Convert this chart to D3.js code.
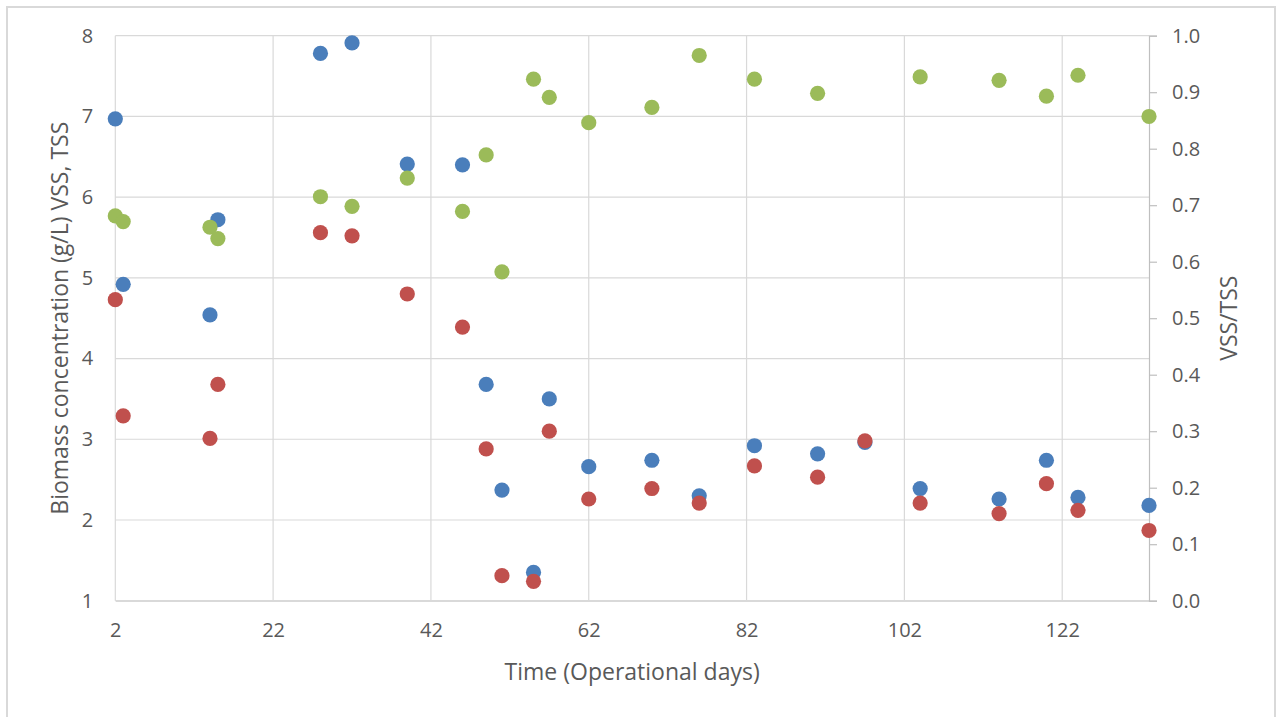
<!DOCTYPE html>
<html><head><meta charset="utf-8">
<script src="https://cdn.jsdelivr.net/npm/d3@7"></script>
<style>body{margin:0;background:#fff}svg{display:block}text{font-family:"Open Sans",sans-serif;fill:#595959}</style>
</head><body><svg id="c" width="1276" height="717"></svg>
<script>
const days = [2, 3, 14, 15, 28, 32, 39, 46, 49, 51, 55, 57, 62, 70, 76, 83, 91, 97, 104, 114, 120, 124, 133];
const tss = [6.97, 4.92, 4.54, 5.72, 7.78, 7.91, 6.41, 6.40, 3.68, 2.37, 1.35, 3.50, 2.66, 2.74, 2.30, 2.92, 2.82, 2.96, 2.39, 2.26, 2.74, 2.28, 2.18];
const vss = [4.73, 3.29, 3.01, 3.68, 5.56, 5.52, 4.80, 4.39, 2.88, 1.31, 1.24, 3.10, 2.26, 2.39, 2.21, 2.67, 2.53, 2.98, 2.21, 2.08, 2.45, 2.12, 1.87];
const ratio = [0.681, 0.671, 0.661, 0.641, 0.715, 0.698, 0.748, 0.689, 0.789, 0.582, 0.923, 0.891, 0.846, 0.873, 0.965, 0.923, 0.898, null, 0.927, 0.921, 0.893, 0.930, 0.857];
const xTicks = [2, 22, 42, 62, 82, 102, 122];
const yLeftTicks = [1, 2, 3, 4, 5, 6, 7, 8];
const yRightTicks = [0, 0.1, 0.2, 0.3, 0.4, 0.5, 0.6, 0.7, 0.8, 0.9, 1.0];
const seriesColors = {tss: "#4a7ebb", vss: "#c0504d", ratio: "#9bbb59"};

const svg = d3.select("#c");
const L = 115.3, R = 1149, T = 35.7, B = 600.7;
const x = d3.scaleLinear().domain([2, 133]).range([L, R]);
const yL = d3.scaleLinear().domain([1, 8]).range([B, T]);
const yR = d3.scaleLinear().domain([0, 1]).range([B, T]);

svg.append("rect").attr("x", 7).attr("y", 7).attr("width", 1268).attr("height", 720)
  .attr("fill", "#fff").attr("stroke", "#d9d9d9").attr("stroke-width", 2);

// gridlines
const g = svg.append("g");
g.selectAll("line.h").data(yLeftTicks).join("line")
  .attr("x1", L).attr("x2", R).attr("y1", d => yL(d)).attr("y2", d => yL(d))
  .attr("stroke", "#d9d9d9").attr("stroke-width", 1.2);
g.selectAll("line.v").data(xTicks).join("line")
  .attr("x1", d => x(d)).attr("x2", d => x(d)).attr("y1", T).attr("y2", B)
  .attr("stroke", "#d9d9d9").attr("stroke-width", 1.2);

// bottom axis
const xAxis = svg.append("g").attr("transform", `translate(0,${B})`)
  .call(d3.axisBottom(x).tickValues(xTicks).tickSize(0).tickPadding(22));
xAxis.select(".domain").attr("stroke", "#d9d9d9").attr("stroke-width", 1.5);
xAxis.selectAll("text").attr("font-size", 20).attr("fill", "#595959");

// left axis
const yAxisL = svg.append("g").attr("transform", `translate(${L},0)`)
  .call(d3.axisLeft(yL).tickValues(yLeftTicks).tickSize(0).tickPadding(22).tickFormat(d3.format("d")));
yAxisL.select(".domain").remove();
yAxisL.selectAll("text").attr("font-size", 20).attr("fill", "#595959");

// right axis
const yAxisR = svg.append("g").attr("transform", `translate(${R},0)`)
  .call(d3.axisRight(yR).tickValues(yRightTicks).tickSize(8).tickPadding(15).tickFormat(d3.format(".1f")));
yAxisR.select(".domain").attr("stroke", "#bfbfbf").attr("stroke-width", 1.2);
yAxisR.selectAll("line").attr("stroke", "#bfbfbf").attr("stroke-width", 1.2);
yAxisR.selectAll("text").attr("font-size", 20).attr("fill", "#595959");

// points
function dots(vals, scale, color) {
  const data = days.map((d, i) => ({d, v: vals[i]})).filter(p => p.v != null);
  svg.append("g").selectAll("circle").data(data).join("circle")
    .attr("cx", p => x(p.d)).attr("cy", p => scale(p.v)).attr("r", 7.6)
    .attr("fill", color);
}
dots(tss, yL, seriesColors.tss);
dots(vss, yL, seriesColors.vss);
dots(ratio, yR, seriesColors.ratio);

// titles
svg.append("text").attr("x", (L + R) / 2).attr("y", 680).attr("text-anchor", "middle")
  .attr("font-size", 23).text("Time (Operational days)");
svg.append("text").attr("transform", `translate(68,${(T + B) / 2}) rotate(-90)`)
  .attr("text-anchor", "middle").attr("font-size", 23).text("Biomass concentration (g/L) VSS, TSS");
svg.append("text").attr("transform", `translate(1237,${(T + B) / 2}) rotate(-90)`)
  .attr("text-anchor", "middle").attr("font-size", 23).text("VSS/TSS");
</script></body></html>
